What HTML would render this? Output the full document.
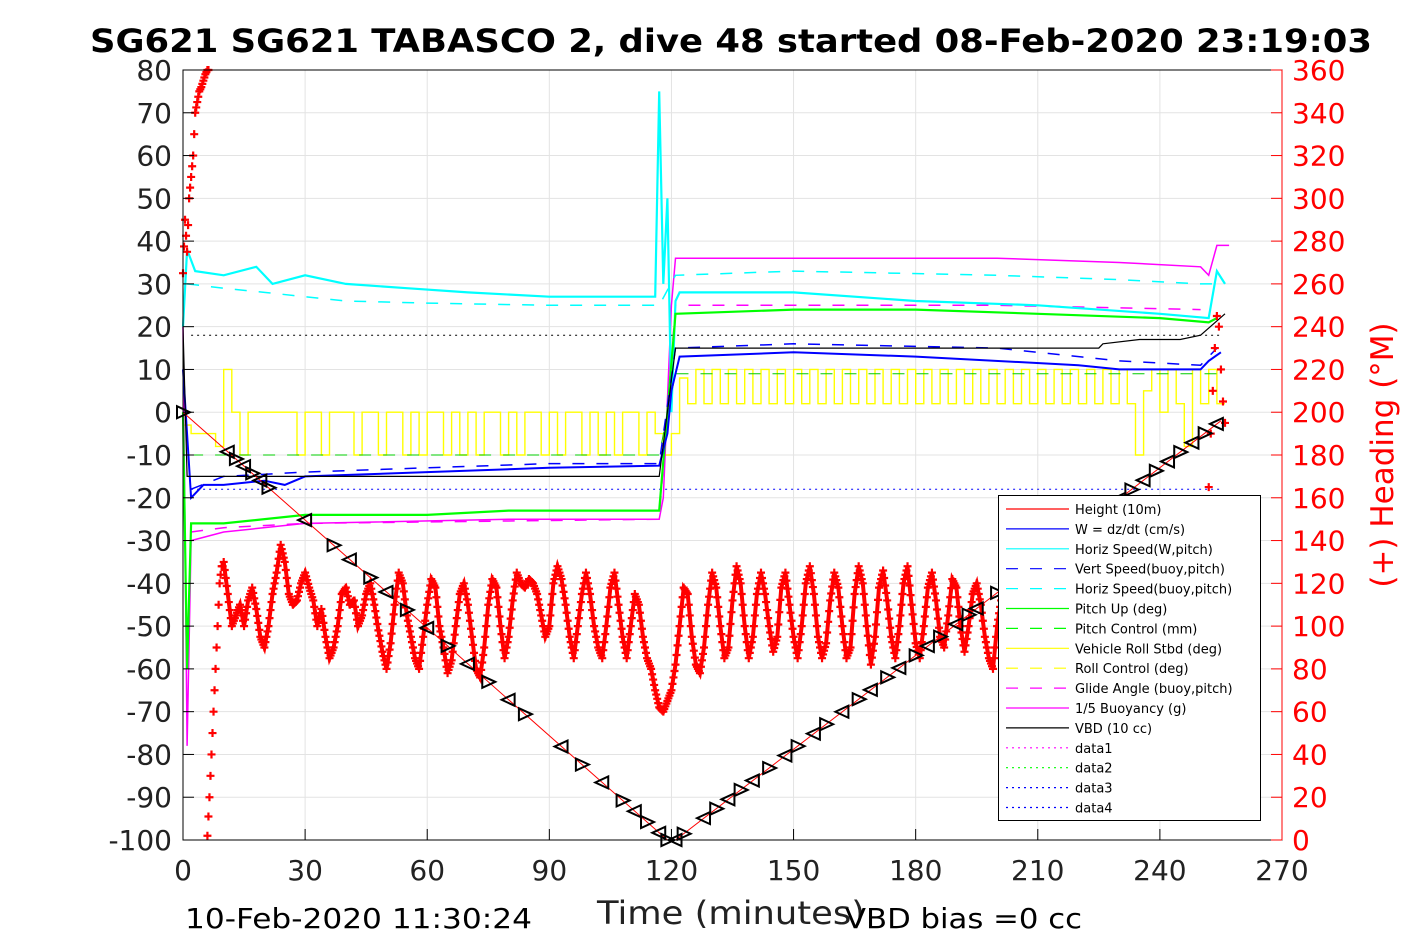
<!DOCTYPE html>
<html><head><meta charset="utf-8">
<style>
body{margin:0;background:#fff;}
svg{display:block;font-family:"DejaVu Sans","Liberation Sans",sans-serif;}
</style></head>
<body>
<svg id="chart" width="1417" height="945" viewBox="0 0 1417 945" xmlns="http://www.w3.org/2000/svg">
<rect width="1417" height="945" fill="#fff"/>
<text x="90" y="52" textLength="1282" lengthAdjust="spacingAndGlyphs" font-size="32" font-weight="bold" fill="#000">SG621 SG621 TABASCO 2, dive 48 started 08-Feb-2020 23:19:03</text>
<g id="grid"></g>
<g id="series"></g>
<rect x="183" y="70" width="1099" height="770" fill="none" stroke="#000" stroke-width="1"/>
<g id="axes"></g>
<text x="597" y="924" textLength="268" lengthAdjust="spacingAndGlyphs" font-size="32" fill="#222">Time (minutes)</text>
<text x="185" y="928" textLength="347" lengthAdjust="spacingAndGlyphs" font-size="28" fill="#000">10-Feb-2020 11:30:24</text>
<text x="845" y="928" textLength="237" lengthAdjust="spacingAndGlyphs" font-size="28" fill="#000">VBD bias =0 cc</text>
<text transform="translate(1393,455) rotate(-90)" text-anchor="middle" font-size="31" fill="#f00">(+) Heading (°M)</text>
<g id="legend"></g>
</svg>
<script>
const xTicks=[0,30,60,90,120,150,180,210,240,270];
const yTicks=[80,70,60,50,40,30,20,10,0,-10,-20,-30,-40,-50,-60,-70,-80,-90,-100];
const hTicks=[360,340,320,300,280,260,240,220,200,180,160,140,120,100,80,60,40,20,0];

const heightT=[0,119,121,255];
const heightV=[0,-100,-100,-2];
const triT=[0,11,13,15,17,19,21,30,37,41,46,50,55,60,65,70,75,80,84,93,98,103,108,111,114,117,119,121,123,128,131,134,137,140,144,148,151,155,158,162,166,169,173,176,180,183,186,190,193,195,200,224,227,230,233,236,239,242,245,248,251,254];

const cyanT=[0,1,3,10,18,22,30,40,55,70,90,110,116,117,118,119,120,121,122,150,180,210,240,252,254,256];
const cyanV=[20,38,33,32,34,30,32,30,29,28,27,27,27,75,30,50,0,26,28,28,26,25,23,22,33,30];
const cyanDT=[1,10,20,40,60,90,117,121,150,200,230,250,254];
const cyanDV=[30,29,28,26,25.5,25,25,32,33,32,31,30,30];
const blueT=[0,2,5,10,20,25,30,60,90,117,119,120,122,150,180,220,230,250,252,255];
const blueV=[10,-20,-17,-17,-16,-17,-15,-14,-13,-12.5,-5,5,13,14,13,11,10,10,12,14];
const blueDT=[2,10,30,60,90,117,121,150,200,230,250,254];
const blueDV=[-18,-15,-14,-13,-12,-12,15,16,15,12,11,15];
const greenT=[0,1,2,10,30,60,80,117,119,121,150,180,210,240,252,254];
const greenV=[0,-60,-26,-26,-24,-24,-23,-23,0,23,24,24,23,22,21,22];
const magT=[0,1,2,10,30,80,117,118,120,121,150,200,230,250,252,254,257];
const magV=[20,-78,-30,-28,-26,-25,-25,-20,25,36,36,36,35,34,32,39,39];
const magDT=[2,10,30,117,121,200,250];
const magDV=[-28,-27,-26,-25,25,25,24];
const vbdT=[0,1,117,121,225,226,235,245,250,256];
const vbdV=[20,-15,-15,15,15,16,17,17,18,23];
const pcT=[2,117,121,255];
const pcV=[-10,-10,9,9];
const rollT=[0,2,4,6,8,10,12,14,16,18,20,22,24,26,28,30,32,34,36,38,40,42,44,46,48,50,52,54,56,58,60,62,64,66,68,70,72,74,76,78,80,82,84,86,88,90,92,94,96,98,100,102,104,106,108,110,112,114,116,118,120,122,124,126,128,130,132,134,136,138,140,142,144,146,148,150,152,154,156,158,160,162,164,166,168,170,172,174,176,178,180,182,184,186,188,190,192,194,196,198,200,202,204,206,208,210,212,214,216,218,220,222,224,226,228,230,232,234,236,238,240,242,244,246,248,250,252,254];
const rollV=[-3,-5,-5,-5,-8,10,0,-10,0,0,0,0,0,0,-10,0,0,-10,0,0,0,-10,0,0,-10,0,0,-10,0,-10,0,0,-10,0,-10,0,-10,0,0,-10,0,-10,0,0,-10,0,-10,0,0,-10,0,-10,0,-10,0,0,-10,0,-5,-10,-5,8,2,10,2,10,2,10,2,10,2,10,2,10,2,10,2,10,2,10,2,10,2,10,2,10,2,10,2,10,2,10,2,10,2,10,2,10,2,10,2,10,2,10,2,10,2,10,2,10,2,10,2,10,2,10,2,-10,5,10,0,10,2,-8,10,2,10,2,-10,5];
const dotBlackV=18, dotBlueV=-18;

const headEarlyT=[0,0.5,1,1.5,2,2.5,3,3.5,4,4.5,5,5.5,6];
const headEarlyV=[265,290,275,300,310,320,340,345,350,352,355,358,360];
const headWrapT=[6,6.5,7,7.5,8,8.5,9,9.5];
const headWrapV=[2,20,40,60,80,100,120,128];
const headStart=10;
const headVals=[130,115,100,105,110,100,112,118,108,95,90,100,115,125,138,130,115,110,112,120,
125,118,112,100,108,95,85,90,100,115,118,110,112,100,105,115,120,110,98,88,
80,92,110,125,120,105,95,85,80,95,110,122,118,100,90,78,84,100,115,120,
110,95,80,76,90,110,122,118,100,85,95,112,125,120,118,122,120,115,105,95,
100,120,128,122,110,95,85,100,115,125,115,100,90,85,100,118,125,110,95,85,
100,115,110,95,85,80,70,62,60,65,70,82,100,118,115,95,82,78,90,110,
125,118,100,85,90,112,128,120,100,85,95,115,125,115,100,88,95,118,125,110,
95,85,100,120,128,115,95,85,92,112,125,118,100,85,90,115,128,120,100,82,
95,118,126,112,95,85,100,120,128,110,92,85,100,118,125,112,95,90,105,122,
118,100,88,100,115,120,110,95,85,80,100,112,120,125,110,118];
const headEndT=[252,252.5,253,253.5,254,254.5,255,255.5,256];
const headEndV=[165,190,210,230,245,240,220,205,195];

const legendLabels=["Height (10m)","W = dz/dt (cm/s)","Horiz Speed(W,pitch)","Vert Speed(buoy,pitch)","Horiz Speed(buoy,pitch)","Pitch Up (deg)","Pitch Control (mm)","Vehicle Roll Stbd (deg)","Roll Control (deg)","Glide Angle (buoy,pitch)","1/5 Buoyancy (g)","VBD (10 cc)","data1","data2","data3","data4"];
const legendColors=["#f00","#00f","#0ff","#00f","#0ff","#0f0","#0f0","#ff0","#ff0","#f0f","#f0f","#000","#f0f","#0f0","#00f","#00f"];
const legendDash=["","","","12,12","12,12","","12,12","","12,12","12,12","","","2,4","2,4","2,4","2,4"];

const NS="http://www.w3.org/2000/svg";
const X=t=>183+(t/270)*1099;
const Y=v=>70+(80-v)/180*770;
const YH=h=>840-h/360*770;
function mk(tag,parent,attrs){const e=document.createElementNS(NS,tag);for(const k in attrs)e.setAttribute(k,attrs[k]);parent.appendChild(e);return e;}
const G=document.getElementById('grid'),S=document.getElementById('series'),A=document.getElementById('axes'),L=document.getElementById('legend');

xTicks.forEach(t=>{
  const l=mk('line',G,{x1:X(t),x2:X(t),y1:70,y2:840,stroke:'#e3e3e3','stroke-width':1});
  
  
  const tk=mk('line',A,{x1:X(t),x2:X(t),y1:840,y2:829,stroke:'#000'});
  
  
  const tx=mk('text',A,{x:X(t),y:880,'text-anchor':'middle','font-size':28,fill:'#222'});
  tx.textContent=t;
  
  
});
yTicks.forEach(v=>{
  const l=mk('line',G,{x1:183,x2:1282,y1:Y(v),y2:Y(v),stroke:'#e3e3e3','stroke-width':1});
  
  
  const tk=mk('line',A,{x1:183,x2:194,y1:Y(v),y2:Y(v),stroke:'#000'});
  
  
  const tx=mk('text',A,{x:172,y:Y(v)+10,'text-anchor':'end','font-size':28,fill:'#222'});
  tx.textContent=v;
  
  
});
hTicks.forEach(h=>{
  const tk=mk('line',A,{x1:1271,x2:1282,y1:YH(h),y2:YH(h),stroke:'#f00'});
  
  
  const tx=mk('text',A,{x:1292,y:YH(h)+10,'font-size':28,fill:'#f00'});
  tx.textContent=h;
  
  
});
const ra=mk('line',A,{x1:1282,x2:1282,y1:70,y2:840,stroke:'#f00'});



function poly(ts,vs,color,name,dash,w,yf){
  const p=ts.map((t,i)=>X(t).toFixed(1)+','+(yf||Y)(vs[i]).toFixed(1)).join(' ');
  const e=mk('polyline',S,{points:p,fill:'none',stroke:color,'stroke-width':w||1.3});
  if(dash)e.setAttribute('stroke-dasharray',dash);
  
  
  return e;
}
poly([2,255],[dotBlackV,dotBlackV],'#000','vbd-reference-dotted','2,4',1);
poly([2,255],[dotBlueV,dotBlueV],'#00f','blue-reference-dotted','2,4',1);
{const st=[],sv=[];rollT.forEach((t,i)=>{st.push(t);sv.push(rollV[i]);st.push(t+2);sv.push(rollV[i]);});
poly(st,sv,'#ff0','vehicle-roll-line','',1.4);}
poly(pcT,pcV,'#0c0','pitch-control-line','12,12',1);
poly(magDT,magDV,'#f0f','glide-angle-line','12,12',1.5);
poly(magT,magV,'#f0f','buoyancy-line','',1.5);
poly(cyanDT,cyanDV,'#0ff','horiz-speed-buoy-line','12,12',1.5);
poly(cyanT,cyanV,'#0ff','horiz-speed-w-line','',2.2);
poly(greenT,greenV,'#0f0','pitch-up-line','',2.2);
poly(blueDT,blueDV,'#00f','vert-speed-buoy-line','12,12',1.5);
poly(blueT,blueV,'#00f','w-line','',2);
poly(vbdT,vbdV,'#000','vbd-line','',1.2);
poly(heightT,heightV,'#f00','height-line','',1);
function plus(t,h){
  const x=X(t),y=YH(h);
  const e=mk('path',S,{d:`M${x-4},${y}H${x+4}M${x},${y-4}V${y+4}`,stroke:'#f00','stroke-width':2.2});
  
  
}
const hT=headVals.map((v,i)=>headStart+i);
poly(hT,headVals,'#f00','heading-trace','',4,YH);
hT.forEach((t,i)=>{const a=headVals[i],b=headVals[i+1]??a;for(let k=0;k<4;k++)plus(t+k/4,a+(b-a)*k/4);});
headEarlyT.forEach((t,i)=>{const a=headEarlyV[i],b=headEarlyV[i+1]??a;plus(t,a);plus(t+0.25,(a+b)/2);});
headWrapT.forEach((t,i)=>{const a=headWrapV[i],b=headWrapV[i+1]??a;plus(t,a);plus(t+0.25,(a+b)/2);});
headEndT.forEach((t,i)=>plus(t,headEndV[i]));
function depthAt(t){for(let i=0;i<heightT.length-1;i++){if(t>=heightT[i]&&t<=heightT[i+1]){const f=(t-heightT[i])/(heightT[i+1]-heightT[i]);return heightV[i]+f*(heightV[i+1]-heightV[i]);}}return heightV[heightV.length-1];}
triT.forEach((t,i)=>{
  const x=X(t),y=Y(depthAt(t));
  const d=(i%2)?`M${x-7},${y} L${x+6},${y-6} L${x+6},${y+6}Z`:`M${x+7},${y} L${x-6},${y-6} L${x-6},${y+6}Z`;
  const e=mk('path',S,{d:d,fill:'none',stroke:'#000','stroke-width':2});
  
  
});
const lb=mk('rect',L,{x:998.5,y:495.5,width:262,height:325,fill:'#fff',stroke:'#000'});


legendLabels.forEach((lab,i)=>{
  const y=509+i*19.9;
  const ln=mk('line',L,{x1:1006,x2:1069,y1:y,y2:y,stroke:legendColors[i],'stroke-width':1.2});
  if(legendDash[i])ln.setAttribute('stroke-dasharray',legendDash[i]);
  
  
  const tx=mk('text',L,{x:1075,y:y+5,'font-size':13,fill:'#000'});
  tx.textContent=lab;
  
  
});
</script>
</body></html>
